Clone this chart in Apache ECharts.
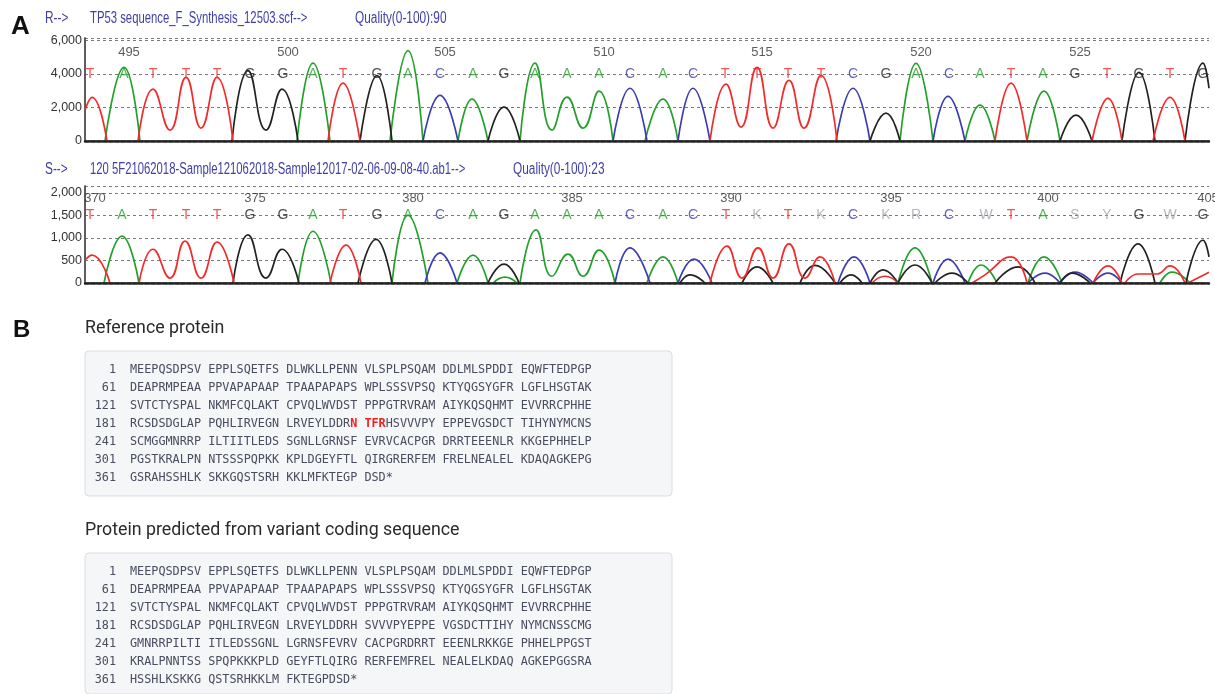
<!DOCTYPE html>
<html>
<head>
<meta charset="utf-8">
<title>TP53 chromatogram</title>
<script src="https://cdn.jsdelivr.net/npm/echarts@6/dist/echarts.min.js"></script>
<style>
  html, body { margin: 0; padding: 0; background: #fff; }
  #chart { width: 1215px; height: 694px; }
</style>
</head>
<body>
<div id="chart"></div>
<script>
// ---- reference trace (R) : scan position, signal ----
const topBases = 'TATTTGGATGACAGAAACACTTTTCGACATAGTGTG';
const topPeaks = [5, 39, 68, 101, 132, 165, 198, 228, 258, 292, 323, 355, 388, 419, 450, 482, 514, 545,
  578, 608, 640, 672, 703, 736, 768, 801, 831, 864, 895, 926, 958, 990, 1022, 1054, 1085, 1118];
const topTickIdx = [1, 6, 11, 16, 21, 26, 31];
const topTickLabels = ['495', '500', '505', '510', '515', '520', '525'];

const topA = [
  [[20, 0], [39, 4400], [55, 0]],
  [[212, 0], [228, 4650], [245, 0]],
  [[305, 0], [323, 5400], [338, 0]],
  [[373, 0], [387, 2500], [403, 0]],
  [[435, 0], [450, 4650], [467, 650], [482, 2620], [498, 770], [514, 2980], [528, 0]],
  [[560, 0], [578, 2500], [593, 0]],
  [[815, 0], [831, 4630], [848, 0]],
  [[880, 0], [895, 2140], [910, 0]],
  [[942, 0], [959, 2980], [975, 0]]
];
const topC = [
  [[338, 0], [355, 2730], [373, 0]],
  [[528, 0], [545, 3150], [562, 0]],
  [[593, 0], [608, 3150], [625, 0]],
  [[751, 0], [768, 3150], [785, 0]],
  [[848, 0], [863, 2670], [880, 0]]
];
const topG = [
  [[147, 0], [163, 4200], [181, 650], [197, 3100], [213, 0]],
  [[275, 0], [292, 3900], [307, 0]],
  [[403, 0], [419, 2020], [435, 0]],
  [[785, 0], [801, 1660], [815, 0]],
  [[975, 0], [991, 1540], [1007, 0]],
  [[1037, 0], [1054, 4100], [1070, 0]],
  [[1100, 0], [1118, 4650], [1124, 3150]]
];
const topT = [
  [[0, 1840], [7, 2600], [22, 0]],
  [[53, 0], [68, 3100], [85, 650], [101, 3800], [116, 770], [132, 3800], [148, 0]],
  [[243, 0], [258, 3450], [275, 0]],
  [[625, 0], [641, 3390], [656, 830], [672, 4400], [688, 770], [704, 3620], [719, 770], [736, 3920], [752, 0]],
  [[910, 0], [926, 3450], [942, 0]],
  [[1007, 0], [1023, 2550], [1037, 0]],
  [[1068, 0], [1085, 2600], [1100, 0]]
];

// ---- sample trace (S) ----
const botBases = 'TATTTGGATGACAGAAACACTKTKCKRCWTASYGWG';
const botPeaks = [5, 37, 68, 101, 132, 165, 198, 228, 258, 292, 323, 355, 388, 419, 450, 482, 514, 545,
  578, 608, 641, 672, 703, 736, 768, 801, 831, 864, 901, 926, 958, 990, 1022, 1054, 1085, 1118];
const botTickIdx = [0, 5, 10, 15, 20, 25, 30, 35];
const botTickLabels = ['370', '375', '380', '385', '390', '395', '400', '405'];

const botA = [
  [[19, 0], [37, 1040], [54, 0]],
  [[213, 0], [228, 1150], [246, 0]],
  [[307, 0], [323, 1510], [343, 0]],
  [[372, 0], [388, 620], [403, 0]],
  [[408, 0], [420, 130], [432, 0]],
  [[435, 0], [451, 1180], [467, 150], [483, 640], [498, 150], [514, 730], [530, 0]],
  [[562, 0], [578, 580], [593, 0]],
  [[813, 0], [830, 780], [847, 0]],
  [[883, 0], [896, 400], [912, 0]],
  [[943, 0], [959, 580], [977, 0]],
  [[1075, 0], [1087, 240], [1105, 0]]
];
const botC = [
  [[340, 0], [355, 670], [372, 0]],
  [[530, 0], [545, 780], [565, 0]],
  [[593, 0], [609, 530], [627, 0]],
  [[753, 0], [769, 580], [785, 0]],
  [[848, 0], [863, 530], [880, 0]],
  [[943, 0], [960, 220], [975, 0]],
  [[975, 0], [990, 240], [1008, 0]],
  [[1008, 0], [1023, 220], [1037, 0]]
];
const botG = [
  [[148, 0], [163, 1070], [181, 110], [197, 750], [214, 0]],
  [[273, 0], [291, 970], [307, 0]],
  [[403, 0], [419, 420], [434, 0]],
  [[595, 0], [605, 180], [620, 0]],
  [[657, 0], [672, 360], [688, 0]],
  [[715, 0], [730, 390], [750, 0]],
  [[755, 0], [766, 180], [777, 0]],
  [[785, 0], [798, 290], [813, 0]],
  [[813, 0], [830, 400], [847, 0]],
  [[850, 0], [867, 220], [883, 0]],
  [[910, 0], [933, 360], [950, 0]],
  [[975, 0], [987, 220], [1005, 0]],
  [[1035, 0], [1053, 870], [1070, 0]],
  [[1101, 0], [1118, 950], [1124, 580]]
];
const botT = [
  [[0, 510], [7, 620], [25, 0]],
  [[54, 0], [68, 750], [85, 110], [100, 930], [116, 110], [132, 910], [149, 0]],
  [[245, 0], [261, 840], [276, 0]],
  [[625, 0], [642, 820], [657, 110], [673, 780], [688, 110], [704, 870], [720, 110], [735, 580], [750, 0]],
  [[787, 0], [800, 150], [813, 0]],
  [[887, 0], [900, 180], [926, 580], [942, 0]],
  [[1008, 0], [1023, 380], [1037, 0]],
  [[1040, 0], [1053, 200], [1072, 200], [1085, 380], [1100, 0]],
  [[1103, 0], [1124, 240]]
];

// ---- protein panels ----
const lineStarts = [1, 61, 121, 181, 241, 301, 361];
const refLines = [
  'MEEPQSDPSV EPPLSQETFS DLWKLLPENN VLSPLPSQAM DDLMLSPDDI EQWFTEDPGP',
  'DEAPRMPEAA PPVAPAPAAP TPAAPAPAPS WPLSSSVPSQ KTYQGSYGFR LGFLHSGTAK',
  'SVTCTYSPAL NKMFCQLAKT CPVQLWVDST PPPGTRVRAM AIYKQSQHMT EVVRRCPHHE',
  'RCSDSDGLAP PQHLIRVEGN LRVEYLDDRN TFRHSVVVPY EPPEVGSDCT TIHYNYMCNS',
  'SCMGGMNRRP ILTIITLEDS SGNLLGRNSF EVRVCACPGR DRRTEEENLR KKGEPHHELP',
  'PGSTKRALPN NTSSSPQPKK KPLDGEYFTL QIRGRERFEM FRELNEALEL KDAQAGKEPG',
  'GSRAHSSHLK SKKGQSTSRH KKLMFKTEGP DSD*'
];
const predLines = [
  'MEEPQSDPSV EPPLSQETFS DLWKLLPENN VLSPLPSQAM DDLMLSPDDI EQWFTEDPGP',
  'DEAPRMPEAA PPVAPAPAAP TPAAPAPAPS WPLSSSVPSQ KTYQGSYGFR LGFLHSGTAK',
  'SVTCTYSPAL NKMFCQLAKT CPVQLWVDST PPPGTRVRAM AIYKQSQHMT EVVRRCPHHE',
  'RCSDSDGLAP PQHLIRVEGN LRVEYLDDRH SVVVPYEPPE VGSDCTTIHY NYMCNSSCMG',
  'GMNRRPILTI ITLEDSSGNL LGRNSFEVRV CACPGRDRRT EEENLRKKGE PHHELPPGST',
  'KRALPNNTSS SPQPKKKPLD GEYFTLQIRG RERFEMFREL NEALELKDAQ AGKEPGGSRA',
  'HSSHLKSKKG QSTSRHKKLM FKTEGPDSD*'
];
const refRedLine = 3;
const refRedCols = [31, 36];   // "N TFR"

const baseColor = { A: '#22a02a', C: '#3c3cb4', G: '#222222', T: '#f22a2a' };
const ambigColor = '#a4a4ac';
const headColor = '#3f3fa6';

function traceData(segs) {
  const out = [];
  segs.forEach((s, i) => {
    if (i) out.push([s[0][0], '-']);
    s.forEach(p => out.push(p));
  });
  return out;
}

function traceSeries(segs, color, ax) {
  return {
    type: 'line', xAxisIndex: ax, yAxisIndex: ax, data: traceData(segs),
    smooth: true, showSymbol: false, silent: true,
    lineStyle: { color: color, width: 1.7 }
  };
}

function letterSeries(bases, peaks, yv, ax) {
  return {
    type: 'scatter', xAxisIndex: ax, yAxisIndex: ax, symbolSize: 0.1, silent: true,
    itemStyle: { color: 'transparent' },
    data: peaks.map((p, i) => ({
      value: [p, yv],
      label: { formatter: bases[i], color: baseColor[bases[i]] || ambigColor }
    })),
    label: { show: true, position: 'inside', fontSize: 14, fontFamily: 'Liberation Sans' }
  };
}

function numberSeries(peaks, idx, labels, yv, ax) {
  return {
    type: 'scatter', xAxisIndex: ax, yAxisIndex: ax, symbolSize: 0.1, silent: true, clip: false,
    itemStyle: { color: 'transparent' },
    data: idx.map((k, i) => ({ value: [peaks[k], yv], label: { formatter: labels[i] } })),
    label: { show: true, position: 'inside', offset: [5, 0], fontSize: 13, color: '#333',
      fontFamily: 'Liberation Sans Narrow, Liberation Sans' }
  };
}

const gridLine = { show: true, lineStyle: { color: '#7a7a7a', width: 1, type: [3, 3] } };
const frame = { show: true, lineStyle: { color: '#555', width: 1.5 } };

function xAxes(g) {
  return [
    { type: 'value', gridIndex: g, min: 0, max: 1124, z: 5,
      axisLine: { show: true, lineStyle: { color: '#222', width: 2.5, type: [4, 2] } },
      axisTick: { show: false }, axisLabel: { show: false }, splitLine: { show: false } },
    { type: 'value', gridIndex: g, min: 0, max: 1124, position: 'top',
      axisLine: frame, axisTick: { show: false }, axisLabel: { show: false }, splitLine: { show: false } }
  ];
}
function yAxes(g, max, interval) {
  return [
    { type: 'value', gridIndex: g, min: 0, max: max, interval: interval,
      axisLine: frame, axisTick: { show: false }, splitLine: gridLine,
      axisLabel: { showMaxLabel: false, margin: 3, color: '#333', fontSize: 12.5,
        fontFamily: 'Liberation Sans Narrow, Liberation Sans',
        formatter: v => v.toLocaleString('en-US') } },
    { type: 'value', gridIndex: g, min: 0, max: 1, position: 'right',
      axisLine: frame, axisTick: { show: false }, axisLabel: { show: false }, splitLine: { show: false } }
  ];
}

// text blocks
const monoFont = '11.8px "DejaVu Sans Mono"';
const seqColor = '#4a4c60';
function headerText(x, y, text, sx) {
  return { type: 'text', x: x, y: y, scaleX: sx,
    style: { text: text, font: '16px "Liberation Sans"', fill: headColor, verticalAlign: 'middle' } };
}
function proteinBox(top, bottom, title, lines, redLine, redCols) {
  const els = [
    { type: 'text', x: 85, y: top - 22,
      style: { text: title, font: '17.8px Roboto', fill: '#2a2a2a', verticalAlign: 'middle' } },
    { type: 'rect', shape: { x: 85, y: top, width: 587, height: bottom - top, r: 4 },
      style: { fill: '#f5f6f7', stroke: '#dcdde0', lineWidth: 1 } }
  ];
  lines.forEach((ln, i) => {
    const y = top + 19 + i * 18;
    let txt = ln;
    if (i === redLine) {
      txt = ln.slice(0, redCols[0]) + '{r|' + ln.slice(redCols[0], redCols[1]) + '}' + ln.slice(redCols[1]);
    }
    els.push({ type: 'text', x: 116, y: y,
      style: { text: String(lineStarts[i]), font: monoFont, fill: seqColor, align: 'right', verticalAlign: 'middle' } });
    els.push({ type: 'text', x: 130, y: y,
      style: { text: txt, font: monoFont, fill: seqColor, verticalAlign: 'middle',
        rich: { r: { fill: '#f02020', fontWeight: 'bold', fontSize: 11.8, fontFamily: 'DejaVu Sans Mono' } } } });
  });
  return els;
}

const chart = echarts.init(document.getElementById('chart'));
chart.setOption({
  animation: false,
  grid: [
    { left: 85, top: 38, width: 1124, height: 103 },
    { left: 85, top: 186, width: 1124, height: 97 }
  ],
  xAxis: [].concat(xAxes(0), xAxes(1)),
  yAxis: [].concat(yAxes(0, 6150, 2000), yAxes(1, 2155, 500)),
  series: [
    traceSeries(topA, baseColor.A, 0),
    traceSeries(topC, baseColor.C, 0),
    traceSeries(topG, baseColor.G, 0),
    traceSeries(topT, baseColor.T, 0),
    letterSeries(topBases, topPeaks, 4000, 0),
    numberSeries(topPeaks, topTickIdx, topTickLabels, 5310, 0),
    traceSeries(botA, baseColor.A, 2),
    traceSeries(botC, baseColor.C, 2),
    traceSeries(botG, baseColor.G, 2),
    traceSeries(botT, baseColor.T, 2),
    letterSeries(botBases, botPeaks, 1500, 2),
    numberSeries(botPeaks, botTickIdx, botTickLabels, 1890, 2)
  ],
  graphic: [
    { type: 'text', x: 11, y: 27, style: { text: 'A', font: 'bold 26px "Liberation Sans"', fill: '#111', verticalAlign: 'middle' } },
    headerText(45, 19, 'R-->', 0.74),
    headerText(90, 19, 'TP53 sequence_F_Synthesis_12503.scf-->', 0.707),
    headerText(355, 19, 'Quality(0-100):90', 0.74),
    headerText(45, 170, 'S-->', 0.74),
    headerText(90, 170, '120 5F21062018-Sample121062018-Sample12017-02-06-09-08-40.ab1-->', 0.706),
    headerText(513, 170, 'Quality(0-100):23', 0.74),
    { type: 'text', x: 13, y: 330, style: { text: 'B', font: 'bold 24px "Liberation Sans"', fill: '#111', verticalAlign: 'middle' } }
  ].concat(
    proteinBox(351, 496, 'Reference protein', refLines, refRedLine, refRedCols),
    proteinBox(553, 694, 'Protein predicted from variant coding sequence', predLines, -1, null)
  )
});
</script>
</body>
</html>
